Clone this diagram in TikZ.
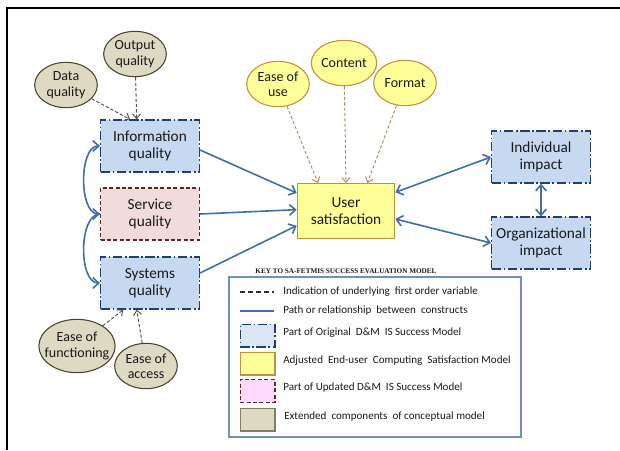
\documentclass[tikz,border=0pt]{standalone}
\usepackage{fontspec}
\setmainfont{Carlito}
\newfontfamily\keyfont{Liberation Serif}
\usepackage{tikz}
\usetikzlibrary{arrows.meta,shapes.geometric}
\definecolor{dmfill}{HTML}{C6D9F1}
\definecolor{dmkey}{HTML}{DCE6F2}
\definecolor{dmline}{HTML}{1F3F6E}
\definecolor{upfill}{HTML}{F2DCDB}
\definecolor{upkey}{HTML}{FFD9FF}
\definecolor{upline}{HTML}{632523}
\definecolor{ecfill}{HTML}{FFFF99}
\definecolor{ecline}{HTML}{C09040}
\definecolor{exfill}{HTML}{DDD9C3}
\definecolor{exline}{HTML}{4A452A}
\definecolor{pathblue}{HTML}{3F6EA8}
\definecolor{fogray}{HTML}{505050}
\definecolor{fobrown}{HTML}{B9875A}
\definecolor{keyline}{HTML}{7090C0}
\definecolor{txt}{HTML}{1A1A1A}
\tikzstyle{boxtxt} = [align=center, text=txt, font=\fontsize{11.5}{12.5}\selectfont, inner xsep=2pt]
\tikzstyle{elltxt} = [ellipse, align=center, text=txt, inner sep=-4pt, font=\fontsize{10.5}{11.5}\selectfont, minimum width=47pt, minimum height=34pt]
\tikzstyle{orig} = [boxtxt, rectangle, draw=dmline, fill=dmfill, line width=1pt, dash pattern=on 7pt off 2pt on 1.2pt off 2pt, minimum width=74pt, minimum height=39pt]
\tikzstyle{upd} = [boxtxt, rectangle, draw=upline, fill=upfill, line width=1pt, dash pattern=on 3pt off 1.8pt, minimum width=74pt, minimum height=39pt]
\tikzstyle{ecs} = [boxtxt, rectangle, draw=ecline, fill=ecfill, line width=1pt, minimum width=73pt, minimum height=41pt]
\tikzstyle{ecse} = [elltxt, draw=ecline, fill=ecfill, line width=0.8pt]
\tikzstyle{ext} = [elltxt, draw=exline, fill=exfill, line width=0.8pt]
\tikzstyle{pa} = [-{Straight Barb[length=4.5pt,width=8pt]}, draw=pathblue, line width=1.2pt]
\tikzstyle{pab} = [{Straight Barb[length=4.5pt,width=8pt]}-{Straight Barb[length=4.5pt,width=8pt]}, draw=pathblue, line width=1.2pt]
\tikzstyle{fo} = [-{Straight Barb[length=3.5pt,width=6pt]}, draw=fogray, line width=0.7pt, dash pattern=on 2.5pt off 1.5pt]
\tikzstyle{fob} = [-{Straight Barb[length=3.5pt,width=6pt]}, draw=fobrown, line width=0.7pt, dash pattern=on 2.5pt off 1.5pt]
\tikzstyle{keytxt} = [anchor=west, text=txt, inner sep=0pt, font=\fontsize{8.3}{9}\selectfont]
\tikzstyle{swatch} = [rectangle, minimum width=26pt, minimum height=17pt, line width=1pt]

\begin{document}
\begin{tikzpicture}[x=0.75pt, y=-0.75pt]
			\useasboundingbox (0,0) rectangle (620,450);
			\draw[line width=2.2pt, line join=miter] (7,450) -- (7,8) -- (620,8);
			% first order variables
			\node[ext] (outq) at (135,54) {Output\\quality};
			\node[ext] (dataq) at (66,85) {Data\\quality};
			\node[ext, minimum width=55pt, minimum height=40pt] (efun) at (77,346) {Ease of\\functioning};
			\node[ext] (eacc) at (146,366) {Ease of\\access};
			\node[ecse] (euse) at (278,84) {Ease of\\use};
			\node[ecse, minimum width=49pt] (cont) at (344,63) {Content};
			\node[ecse] (form) at (405,83) {Format};
			% constructs
			\node[orig] (info) at (150,146) {Information\\quality};
			\node[upd] (serv) at (150,214) {Service\\quality};
			\node[orig] (sys) at (150,283) {Systems\\quality};
			\node[ecs] (usat) at (346,211) {User\\satisfaction};
			\node[orig] (indiv) at (541,157) {Individual\\impact};
			\node[orig] (orgi) at (541,243) {Organizational\\impact};
			% dashed links
			\draw[fo] (dataq) -- ([xshift=-15pt]info.north);
			\draw[fo] (outq) -- ([xshift=-10pt]info.north);
			\draw[fo] (efun) -- ([xshift=-20pt]sys.south);
			\draw[fo] (eacc) -- ([xshift=-10pt]sys.south);
			\draw[fob] (euse) -- ([xshift=-21pt]usat.north);
			\draw[fob] (cont) -- (usat.north);
			\draw[fob] (form) -- ([xshift=16pt]usat.north);
			% paths
			\draw[pab] (info.west) to[out=180, in=180, looseness=0.8] (serv.west);
			\draw[pa] (serv.west) to[out=180, in=180, looseness=0.8] (sys.west);
			\draw[pa] ([yshift=-3pt]info.east) -- ([yshift=13.5pt]usat.west);
			\draw[pa] (serv.east) -- ([yshift=1pt]usat.west);
			\draw[pa] ([yshift=7.5pt]sys.east) -- ([yshift=-11pt]usat.west);
			\draw[pab] ([yshift=14pt]usat.east) -- (indiv.west);
			\draw[pab] ([yshift=-6pt]usat.east) -- (orgi.west);
			\draw[pab] (indiv.south) -- (orgi.north);
			% key
			\node[draw=keyline, line width=1.1pt, minimum width=219pt, minimum height=120pt] (key) at (375,357) {};
			\node[text=txt, font=\keyfont\bfseries\fontsize{5.4}{6}\selectfont] (keyt) at (346,271) {KEY TO SA-FETMIS SUCCESS EVALUATION MODEL};
			\coordinate (kd1) at (240,292);
			\coordinate (kd2) at (274,292);
			\coordinate (kl1) at (240,311);
			\coordinate (kl2) at (274,311);
			\draw[draw=fogray!60!black, line width=1.5pt, dash pattern=on 4pt off 2pt] (kd1) -- (kd2);
			\draw[draw=pathblue, line width=1.3pt] (kl1) -- (kl2);
			\node[swatch, draw=dmline, fill=dmkey, dash pattern=on 7pt off 2pt on 1.2pt off 2pt] (kor) at (257.5,335.5) {};
			\node[swatch, draw=ecline, fill=ecfill] (kec) at (257.5,363.5) {};
			\node[swatch, draw=upline, fill=upkey, dash pattern=on 3pt off 1.8pt] (kup) at (257.5,391) {};
			\node[swatch, draw=exline!70, fill=exfill] (kex) at (257.5,419.5) {};
			\node[keytxt] (kt1) at (283,292) {Indication of underlying\ \ first order variable};
			\node[keytxt] (kt2) at (283,311) {Path or relationship\ \ between\ \ constructs};
			\node[keytxt] (kt3) at (283,333) {Part of Original\ \ D\&M\ \ IS Success Model};
			\node[keytxt] (kt4) at (283,361) {Adjusted\ \ End-user\ \ Computing\ \ Satisfaction Model};
			\node[keytxt] (kt5) at (283,388) {Part of Updated D\&M\ \ IS Success Model};
			\node[keytxt] (kt6) at (284,417) {Extended\ \ components\ \ of conceptual model};
		\end{tikzpicture}
\end{document}
